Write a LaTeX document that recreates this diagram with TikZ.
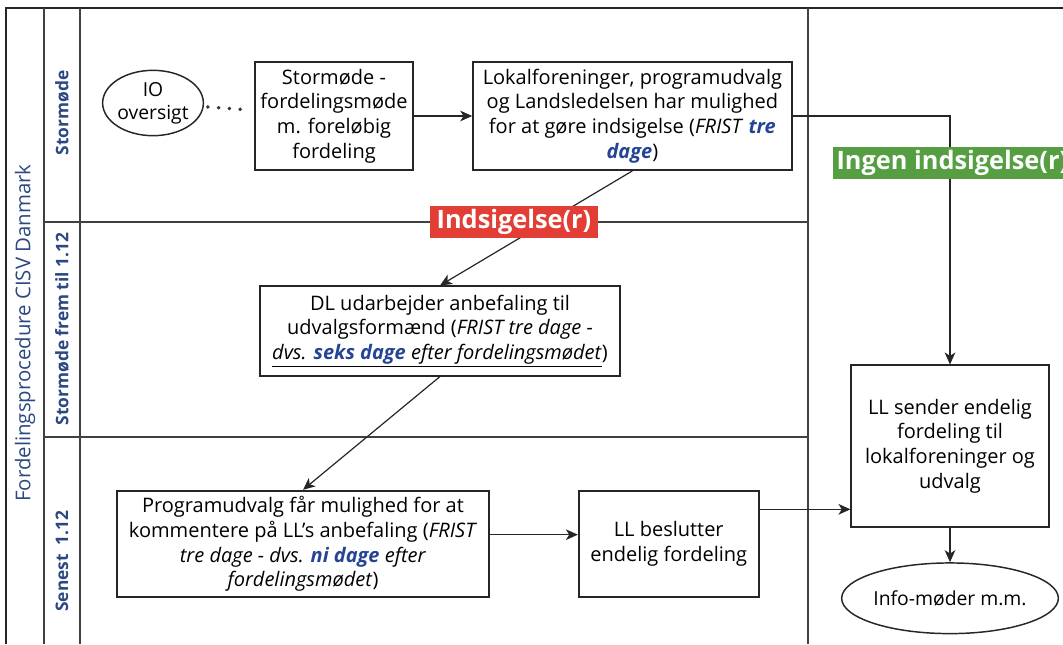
\documentclass[tikz,border=0pt]{standalone}
\usepackage{fontspec}
\setmainfont{Open Sans}
\setsansfont{Open Sans}
\usetikzlibrary{positioning,shapes.geometric,arrows.meta,calc}
\definecolor{laneblue}{RGB}{44,72,130}
\definecolor{fristblue}{RGB}{38,68,150}
\definecolor{indsigred}{RGB}{226,62,54}
\definecolor{ingengreen}{RGB}{86,158,66}
\newcommand{\fristdage}[1]{\textcolor{fristblue}{\bfseries\itshape #1}}

\begin{document}
\begin{tikzpicture}[x=0.75pt, y=-0.75pt,
        box/.style={rectangle, draw=black!85, line width=1.3pt, align=center, inner sep=2pt, font=\fontsize{15}{18.5}\selectfont},
        oval/.style={ellipse, draw=black!85, line width=1.1pt, align=center, inner sep=0pt, font=\fontsize{14.5}{17}\selectfont},
        tag/.style={rectangle, text=white, inner sep=2.5pt, font=\fontsize{19}{21}\selectfont\bfseries},
        lanelabel/.style={rotate=90, text=laneblue, font=\fontsize{13}{15}\selectfont\bfseries},
        poolline/.style={draw=black!85, line width=1.6pt},
        laneline/.style={draw=black!75, line width=1.1pt},
        arrow/.style={-{Stealth[length=9pt, width=8pt, inset=2.5pt]}, line width=0.9pt, draw=black!85},
        dots/.style={line width=2.8pt, dash pattern=on 0.1pt off 8pt, line cap=round, draw=black!80, shorten <=3pt, shorten >=6pt},
      ]
      \useasboundingbox (0,0) rectangle (1063,644);
      \clip (0,0) rectangle (1063,644);
      \draw [poolline] (1063,8) -- (6,8) -- (6,644);
      \draw [laneline] (44,8) -- (44,644);
      \draw [laneline] (80,8) -- (80,644);
      \draw [laneline] (808,8) -- (808,644);
      \draw [laneline] (44,222) -- (808,222);
      \draw [laneline] (44,437) -- (808,437);
      \node [rotate=90, text=laneblue, font=\fontsize{15.3}{17}\selectfont] (pool) at (25,333) {Fordelingsprocedure CISV Danmark};
      \node [lanelabel] (lane1) at (62,113) {Stormøde};
      \node [lanelabel] (lane2) at (62,329) {Stormøde frem til 1.12};
      \node [lanelabel] (lane3) at (62,561) {Senest \ 1.12};
      \node [oval, minimum width=66pt, minimum height=49pt] (io) at (153,103) {IO\\oversigt};
      \node [box, minimum width=118pt, minimum height=81pt] (stormoede) at (334,116) {Stormøde -\\fordelingsmøde\\m. foreløbig\\fordeling};
      \node [box, minimum width=239pt, minimum height=81pt, right=44pt of stormoede] (lokal) {Lokalforeninger, programudvalg\\og Landsledelsen har mulighed\\for at gøre indsigelse (\textit{FRIST} \fristdage{tre}\\\fristdage{dage})};
      \node [box, minimum width=270pt, minimum height=67pt] (dl) at (440,331) {DL udarbejder anbefaling til\\udvalgsformænd (\textit{FRIST tre dage -}\\\underline{\textit{dvs. \fristdage{seks dage} efter fordelingsmødet}})};
      \node [box, minimum width=279pt, minimum height=80pt] (prog) at (303,544) {Programudvalg får mulighed for at\\kommentere på LL's anbefaling (\textit{FRIST}\\\textit{tre dage - dvs. \fristdage{ni dage} efter}\\\textit{fordelingsmødet})};
      \node [box, minimum width=135pt, minimum height=80pt, right=66pt of prog] (beslut) {LL beslutter\\endelig fordeling};
      \node [box, minimum width=148pt, minimum height=121pt] (sender) at (950,446) {LL sender endelig\\fordeling til\\lokalforeninger og\\udvalg};
      \node [oval, minimum width=160pt, minimum height=53pt, below=26pt of sender] (info) {Info-møder m.m.};
      \draw [dots] (io) -- (stormoede);
      \draw [arrow] (stormoede) -- (lokal);
      \draw [arrow] (lokal.east) -| (sender.north);
      \draw [arrow] (lokal.south) -- (dl.north);
      \draw [arrow] (dl.south) -- (prog.north);
      \draw [arrow] ([yshift=7pt]prog.east) -- ([yshift=7pt]beslut.west);
      \draw [arrow] ([yshift=26pt]beslut.east) coordinate (toSender) -- (toSender -| sender.west);
      \draw [arrow] (sender) -- (info);
      \node [tag, fill=indsigred, minimum width=126pt, minimum height=24pt] (indsig) at (514,222) {Indsigelse(r)};
      \node [tag, fill=ingengreen, minimum height=23pt, anchor=west] (ingen) at (833,163) {Ingen indsigelse(r)};
    \end{tikzpicture}
\end{document}
